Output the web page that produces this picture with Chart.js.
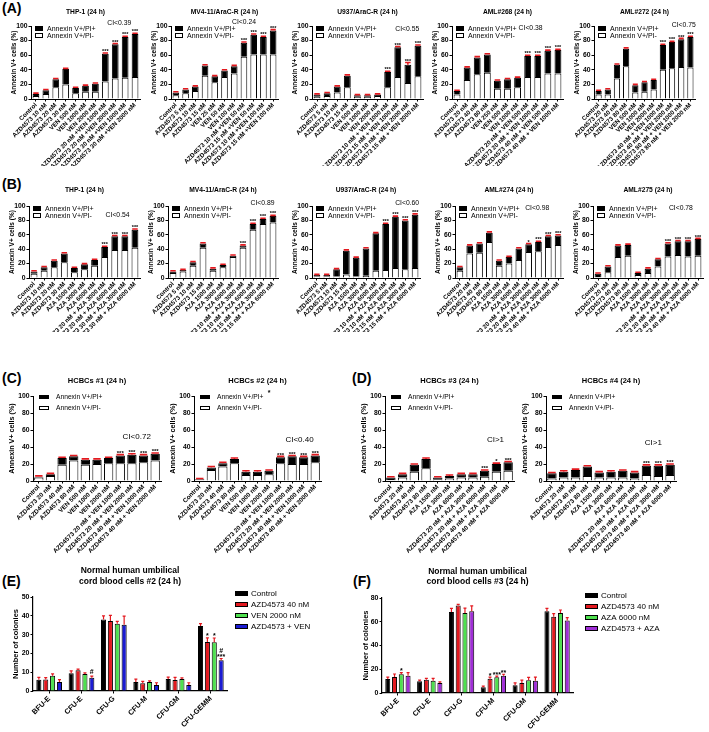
<!DOCTYPE html>
<html>
<head>
<meta charset="utf-8">
<title>Annexin V and colony assays</title>
<script src="https://cdn.jsdelivr.net/npm/chart.js@4.4.1/dist/chart.umd.min.js"></script>
<style>
  body{margin:0;background:#fff;}
  #fig{position:relative;width:709px;height:732px;overflow:hidden;background:#fff;}
  #fig canvas{position:absolute;}
  .tag{position:absolute;font:bold 14px "Liberation Sans",Arial,sans-serif;line-height:14px;color:#000;}
</style>
</head>
<body>
<div id="fig">
  <div class="tag" style="left:2px;top:1px">(A)</div>
  <div class="tag" style="left:2px;top:177px">(B)</div>
  <div class="tag" style="left:2px;top:371px">(C)</div>
  <div class="tag" style="left:352px;top:371px">(D)</div>
  <div class="tag" style="left:2px;top:574px">(E)</div>
  <div class="tag" style="left:353px;top:574px">(F)</div>
</div>
<script>
const FONT = '"Liberation Sans", Arial, sans-serif';
const RED = '#e3191f';
Chart.defaults.font.family = FONT;

// ---------- category labels ----------
const labThpVen = ['Control','AZD4573 10 nM','AZD4573 20 nM','AZD4573 30 nM','VEN 500 nM','VEN 1000 nM','VEN 2000 nM',
  'AZD4573 20 nM +VEN 1000 nM','AZD4573 20 nM +VEN 2000 nM','AZD4573 30 nM +VEN 1000 nM','AZD4573 30 nM +VEN 2000 nM'];
const labMvVen = ['Control','AZD4573 5 nM','AZD4573 10 nM','AZD4573 15 nM','VEN 25 nM','VEN 50 nM','VEN 100 nM',
  'AZD4573 10 nM +VEN 50 nM','AZD4573 15 nM +VEN 50 nM','AZD4573 10 nM +VEN 100 nM','AZD4573 15 nM +VEN 100 nM'];
const labU9Ven = ['Control','AZD4573 5 nM','AZD4573 10 nM','AZD4573 15 nM','VEN 500 nM','VEN 1000 nM','VEN 2000 nM',
  'AZD4573 10 nM + VEN 1000 nM','AZD4573 15 nM + VEN 1000 nM','AZD4573 10 nM + VEN 2000 nM','AZD4573 15 nM + VEN 2000 nM'];
const lab268Ven = ['Control','AZD4573 20 nM','AZD4573 40 nM','AZD4573 80 nM','VEN 250 nM','VEN 500 nM','VEN 1000 nM',
  'AZD4573 20 nM + VEN 500 nM','AZD4573 20 nM + VEN 1000 nM','AZD4573 40 nM + VEN 500 nM','AZD4573 40 nM + VEN 1000 nM'];
const lab272Ven = ['Control','AZD4573 20 nM','AZD4573 40 nM','AZD4573 80 nM','VEN 500 nM','VEN 1000 nM','VEN 2000 nM',
  'AZD4573 40 nM + VEN 1000 nM','AZD4573 40 nM + VEN 2000 nM','AZD4573 80 nM + VEN 1000 nM','AZD4573 80 nM + VEN 2000 nM'];
const labThpAza = ['Control','AZD4573 10 nM','AZD4573 20 nM','AZD4573 30 nM','AZA 1500 nM','AZA 3000 nM','AZA 6000 nM',
  'AZD4573 20 nM + AZA 3000 nM','AZD4573 20 nM + AZA 6000 nM','AZD4573 30 nM + AZA 3000 nM','AZD4573 30 nM + AZA 6000 nM'];
const labLowAza = ['Control','AZD4573 5 nM','AZD4573 10 nM','AZD4573 15 nM','AZA 1500 nM','AZA 3000 nM','AZA 6000 nM',
  'AZD4573 10 nM + AZA 3000 nM','AZD4573 10 nM + AZA 6000 nM','AZD4573 15 nM + AZA 3000 nM','AZD4573 15 nM + AZA 6000 nM'];
const labHighAza = ['Control','AZD4573 20 nM','AZD4573 40 nM','AZD4573 80 nM','AZA 1500 nM','AZA 3000 nM','AZA 6000 nM',
  'AZD4573 20 nM + AZA 3000 nM','AZD4573 20 nM + AZA 6000 nM','AZD4573 40 nM + AZA 3000 nM','AZD4573 40 nM + AZA 6000 nM'];
const labCordVen = ['Control','AZD4573 20 nM','AZD4573 40 nM','AZD4573 80 nM','VEN 500 nM','VEN 1000 nM','VEN 2000 nM',
  'AZD4573 20 nM + VEN 1000 nM','AZD4573 20 nM + VEN 2000 nM','AZD4573 40 nM + VEN 1000 nM','AZD4573 40 nM + VEN 2000 nM'];

// ---------- (A) Annexin V+/PI- (white) and V+/PI+ (black) segments, % ----------
const negA1 = [4, 7, 16, 20, 8, 10, 10, 24, 28, 29, 30];
const posA1 = [3, 5, 11, 21, 7, 8, 11, 38, 47, 56, 59];
const negA2 = [5, 8, 11, 32, 23, 30, 35, 58, 61, 61, 61];
const posA2 = [4, 5, 6, 14, 8, 9, 10, 19, 27, 24, 33];
const negA3 = [3, 4, 9, 16, 3, 3, 4, 16, 30, 22, 31];
const posA3 = [3, 4, 8, 16, 2, 2, 2, 21, 41, 25, 42];
const errA3 = [1, 1, 1, 1, 1, 1, 1, 1, 1, 3, 1];
const negA4 = [6, 26, 34, 36, 14, 14, 16, 30, 30, 35, 35];
const posA4 = [5, 17, 23, 25, 11, 13, 13, 29, 29, 31, 32];
const negA5 = [6, 6, 28, 45, 9, 10, 13, 40, 42, 44, 43];
const posA5 = [5, 7, 19, 24, 10, 13, 13, 34, 36, 38, 42];

// ---------- (B) ----------
const negB1 = [6, 10, 15, 22, 8, 12, 17, 29, 39, 39, 42];
const posB1 = [3, 5, 9, 12, 6, 7, 8, 14, 19, 19, 25];
const negB2 = [7, 9, 17, 42, 10, 15, 29, 42, 67, 75, 77];
const posB2 = [2, 2, 5, 6, 3, 3, 2, 3, 8, 7, 9];
const negB3 = [2, 2, 2, 5, 2, 3, 10, 11, 14, 12, 14];
const posB3 = [2, 2, 10, 33, 26, 38, 52, 64, 71, 68, 74];
const negB4 = [10, 34, 35, 50, 17, 20, 25, 36, 37, 43, 46];
const posB4 = [5, 11, 13, 13, 7, 9, 16, 11, 13, 15, 13];
const negB5 = [1, 8, 29, 31, 4, 7, 16, 30, 32, 30, 31];
const posB5 = [5, 8, 16, 15, 3, 6, 10, 18, 19, 21, 23];

// ---------- (C) / (D) cord blood cells ----------
const negC1 = [4, 6, 19, 24, 19, 20, 21, 21, 21, 22, 24];
const posC1 = [1, 2, 8, 5, 6, 5, 6, 9, 10, 8, 8];
const negC2 = [1, 13, 17, 21, 7, 7, 8, 21, 20, 20, 22];
const posC2 = [1, 3, 4, 5, 4, 4, 4, 7, 9, 8, 8];
const negD3 = [1, 4, 11, 15, 2, 3, 4, 4, 5, 11, 12];
const posD3 = [3, 4, 8, 11, 2, 3, 4, 4, 7, 9, 10];
const negD4 = [3, 4, 4, 6, 4, 4, 4, 3, 7, 6, 7];
const posD4 = [6, 7, 9, 11, 6, 7, 8, 7, 11, 12, 12];

// significance marks
const starsCombo = ['', '', '', '', '', '', '', '***', '***', '***', '***'];
const starsB4 = ['', '', '', '', '', '', '', '*', '***', '***', '***'];
const starsD3 = ['', '', '', '', '', '', '', '', '***', '*', '***'];
const starsD4 = ['', '', '', '', '', '', '', '', '***', '***', '***'];

// ---------- (E) / (F) colony numbers ----------
const colonyTypes = ['BFU-E', 'CFU-E', 'CFU-G', 'CFU-M', 'CFU-GM', 'CFU-GEMM'];
const namesE = ['Control', 'AZD4573 40 nM', 'VEN 2000 nM', 'AZD4573 + VEN'];
const e2Control = [6, 9.5, 38, 4.8, 6.4, 34.6];
const e2Azd = [6.1, 11.1, 37.2, 4.1, 5.8, 26.1];
const e2Ven = [8.1, 9, 35.8, 4.8, 6.4, 25.9];
const e2Combo = [4.8, 7.1, 35.3, 3.2, 3.2, 16.3];
const e2ErrControl = [1.3, 1.2, 2, 1.5, 1, 1.2];
const e2ErrAzd = [1, 0.5, 3, 1, 1.5, 2.2];
const e2ErrVen = [1, 0.6, 1.2, 0.6, 0.6, 2.3];
const e2ErrCombo = [1.2, 0.8, 4.5, 1.2, 1.2, 1];
const e2Marks = [['', '', '', '', '', ''], ['', '', '', '', '', '*'], ['', '', '', '', '', '*'], ['', '#', '', '', '', '#\n***']];

const namesF = ['Control', 'AZD4573 40 nM', 'AZA 6000 nM', 'AZD4573 + AZA'];
const f3Control = [11.8, 9.8, 68.3, 4.8, 6.5, 68.8];
const f3Azd = [13.5, 11.2, 73.6, 12.1, 8.4, 64.3];
const f3Aza = [15.7, 10.4, 67.4, 13.2, 10.7, 67.4];
const f3Combo = [14.6, 8.4, 68.8, 14.6, 10.4, 61];
const f3ErrControl = [1.5, 1, 3, 1, 2, 2.5];
const f3ErrAzd = [2.5, 1.2, 1, 1.2, 2.5, 2.5];
const f3ErrAza = [1.5, 2, 4, 1, 2.5, 2.5];
const f3ErrCombo = [2.5, 1, 4.5, 1.2, 3, 2.5];
const f3Marks = [['', '', '', '', '', ''], ['', '', '', '*', '', ''], ['*', '', '', '***', '', ''], ['', '', '', '**', '', '']];

const colorsE = ['#000000', '#e3191f', '#4fe04f', '#1b1bd2'];
const colorsF = ['#000000', '#e3191f', '#4fe04f', '#a02fd6'];

// ---------- drawing helpers ----------
function drawErr(ctx, x, yv, ye, w, lw) {
  ctx.strokeStyle = RED;
  ctx.lineWidth = lw;
  ctx.beginPath();
  ctx.moveTo(x, yv); ctx.lineTo(x, ye);
  ctx.moveTo(x - w / 2, ye); ctx.lineTo(x + w / 2, ye);
  ctx.stroke();
}

function drawMark(ctx, text, x, yTop, size) {
  ctx.fillStyle = '#000';
  ctx.textAlign = 'center';
  ctx.textBaseline = 'alphabetic';
  ctx.font = `bold ${size}px ${FONT}`;
  let cur = yTop;
  text.split('\n').reverse().forEach(line => {
    if (/^\*+$/.test(line)) {
      ctx.fillText(line, x, cur + size * 0.2);
      cur -= size * 0.5;
    } else {
      ctx.fillText(line, x, cur - 1);
      cur -= size * 0.8 + 1;
    }
  });
}

const extras = {
  id: 'extras',
  afterDatasetsDraw(chart, args, o) {
    const ctx = chart.ctx, a = chart.chartArea, y = chart.scales.y;
    const ds = chart.data.datasets;
    ctx.save();
    if (o.stacked) {
      chart.getDatasetMeta(ds.length - 1).data.forEach((bar, i) => {
        const tot = ds.reduce((s, d) => s + d.data[i], 0);
        const e = o.err ? o.err[i] : 1;
        const ye = y.getPixelForValue(tot + e);
        drawErr(ctx, bar.x, y.getPixelForValue(tot), ye, bar.width * 0.8, 1.6);
        if (o.marks && o.marks[i]) drawMark(ctx, o.marks[i], bar.x, ye - 1, o.markSize);
      });
    }
    if (o.errs) {
      ds.forEach((d, k) => {
        chart.getDatasetMeta(k).data.forEach((bar, i) => {
          const ye = y.getPixelForValue(d.data[i] + o.errs[k][i]);
          drawErr(ctx, bar.x, y.getPixelForValue(d.data[i]), ye, bar.width * 0.6, 1.2);
          if (o.marks && o.marks[k][i]) drawMark(ctx, o.marks[k][i], bar.x, ye - 1, o.markSize);
        });
      });
    }
    if (o.legend) {
      const L = o.legend;
      const items = ds.map(d => [d.label, d.backgroundColor]);
      if (L.reverse) items.reverse();
      ctx.font = `${L.size}px ${FONT}`;
      ctx.textAlign = 'left';
      ctx.textBaseline = 'middle';
      items.forEach(([label, fill], i) => {
        const x = Math.round(a.left + L.x), yc = Math.round(a.top + L.y + i * L.gap);
        const y0 = yc - Math.round(L.bh / 2);
        ctx.fillStyle = fill;
        ctx.fillRect(x, y0, L.bw, L.bh);
        ctx.strokeStyle = '#000';
        ctx.lineWidth = 1;
        ctx.strokeRect(x + 0.5, y0 + 0.5, L.bw - 1, L.bh - 1);
        ctx.fillStyle = '#000';
        ctx.fillText(label, x + L.bw + L.textGap, yc);
      });
    }
    (o.texts || []).forEach(t => {
      ctx.fillStyle = '#000';
      ctx.font = `${t.weight || 'normal'} ${t.size}px ${FONT}`;
      ctx.textAlign = 'left';
      ctx.textBaseline = 'middle';
      ctx.fillText(t.text, a.left + t.fx * (a.right - a.left), y.getPixelForValue(t.v));
    });
    ctx.restore();
  }
};

function addCanvas(left, top, w, h) {
  const c = document.createElement('canvas');
  c.width = w; c.height = h;
  c.style.left = left + 'px'; c.style.top = top + 'px';
  c.style.width = w + 'px'; c.style.height = h + 'px';
  document.getElementById('fig').appendChild(c);
  return c;
}

const bold = size => ({family: FONT, size: size, weight: 'bold'});
const blackTicks = {display: true, drawOnChartArea: false, offset: false, tickLength: 2.5, color: '#000', lineWidth: 1};

const SMALL = {yW: 22, tick: 6.8, xTick: 6.2, title: 6.7, yTitle: 6.5, ci: 6.8, mark: 5.5, bar: 0.68,
  legend: {x: 4, y: 2.5, gap: 7, bw: 8, bh: 5, size: 7, textGap: 4, reverse: true}};
const LARGE = {yW: 26, tick: 6.8, xTick: 6.3, title: 7.5, yTitle: 7.2, ci: 8, mark: 6, bar: 0.8,
  legend: {x: 6, y: 1, gap: 11, bw: 10, bh: 4, size: 6.7, textGap: 7, reverse: true}};

// stacked Annexin V panel; area = [left, right, top, bottom] of the plot in page pixels
function stackPanel(p) {
  const s = p.large ? LARGE : SMALL;
  const [x0, x1, y0, y1] = p.area;
  const left = x0 - s.yW, width = x1 - left + 3;
  const line = s.title * 1.2;
  const padTop = p.titleY - p.top - line / 2;
  const c = addCanvas(left, p.top, width, p.h);
  const texts = [{text: p.ci[0], fx: p.ci[1], v: p.ci[2], size: s.ci}].concat(p.notes || []);
  new Chart(c, {
    type: 'bar',
    data: {
      labels: p.labels,
      datasets: [
        {label: 'Annexin V+/PI-', data: p.neg, backgroundColor: '#ffffff', borderColor: '#000', borderWidth: 1,
          barPercentage: s.bar, categoryPercentage: 1},
        {label: 'Annexin V+/PI+', data: p.pos, backgroundColor: '#000000', borderColor: '#000', borderWidth: 1,
          barPercentage: s.bar, categoryPercentage: 1}
      ]
    },
    options: {
      responsive: false, animation: false, events: [],
      layout: {padding: {top: padTop, right: 3, left: 0, bottom: 0}},
      plugins: {
        legend: {display: false},
        tooltip: {enabled: false},
        title: {display: true, text: p.title, fullSize: false, color: '#000', font: bold(s.title),
          padding: {top: 0, bottom: y0 - p.top - padTop - line}},
        extras: {stacked: true, err: p.err, marks: p.stars, markSize: s.mark, legend: s.legend, texts: texts}
      },
      scales: {
        x: {
          stacked: true,
          grid: blackTicks,
          border: {color: '#000', width: 1},
          ticks: {autoSkip: false, minRotation: 45, maxRotation: 45, padding: 0, color: '#000', font: bold(s.xTick)},
          afterFit: sc => { sc.height = p.top + p.h - y1; sc.paddingLeft = 0; sc.paddingRight = 0; }
        },
        y: {
          stacked: true, min: 0, max: 100,
          grid: blackTicks,
          border: {color: '#000', width: 1},
          ticks: {stepSize: 20, padding: 1, color: '#000', font: bold(s.tick)},
          title: {display: true, text: 'Annexin V+ cells (%)', color: '#000', font: bold(s.yTitle), padding: {top: 1, bottom: 0}},
          afterFit: sc => { sc.width = s.yW; }
        }
      }
    },
    plugins: [extras]
  });
}

// grouped colony-count panel
function colonyPanel(p) {
  const [x0, x1, y0, y1] = p.area;
  const left = x0 - p.yW, width = p.right - left;
  const titleSize = 8.5, line = titleSize * 1.25 * 2;
  const padTop = p.titleTop - p.top;
  const c = addCanvas(left, p.top, width, p.h);
  new Chart(c, {
    type: 'bar',
    data: {
      labels: colonyTypes,
      datasets: p.series.map((vals, k) => ({
        label: p.names[k], data: vals, backgroundColor: p.colors[k], borderColor: '#000', borderWidth: 1,
        barPercentage: 0.74, categoryPercentage: 0.85
      }))
    },
    options: {
      responsive: false, animation: false, events: [],
      layout: {padding: {top: padTop, right: p.right - x1, left: 0, bottom: 0}},
      plugins: {
        legend: {display: false},
        tooltip: {enabled: false},
        title: {display: true, text: p.title, fullSize: false, color: '#000',
          font: {family: FONT, size: titleSize, weight: 'bold', lineHeight: 1.25},
          padding: {top: 0, bottom: y0 - p.top - padTop - line}},
        extras: {errs: p.errs, marks: p.marks, markSize: 7,
          legend: {x: p.legendX, y: p.legendY, gap: 11, bw: 13, bh: 5, size: 8, textGap: 3}}
      },
      scales: {
        x: {
          grid: blackTicks,
          border: {color: '#000', width: 1.2},
          ticks: {autoSkip: false, minRotation: 45, maxRotation: 45, padding: 1, color: '#000', font: bold(7.3)},
          afterFit: sc => { sc.height = p.top + p.h - y1; sc.paddingLeft = 0; sc.paddingRight = 0; }
        },
        y: {
          min: 0, max: p.max,
          grid: blackTicks,
          border: {color: '#000', width: 1.2},
          ticks: {stepSize: p.step, padding: 1, color: '#000', font: bold(7)},
          title: {display: true, text: 'Number of colonies', color: '#000', font: bold(7.5), padding: {top: 1, bottom: 0}},
          afterFit: sc => { sc.width = p.yW; }
        }
      }
    },
    plugins: [extras]
  });
}

// ---------- row A ----------
const rowA = {top: 0, h: 166, titleY: 12.5};
stackPanel({...rowA, area: [31, 140, 26, 99], title: 'THP-1 (24 h)', labels: labThpVen, neg: negA1, pos: posA1, stars: starsCombo, ci: ['CI<0.39', 0.7, 104]});
stackPanel({...rowA, area: [171, 278, 26, 99], title: 'MV4-11/AraC-R (24 h)', labels: labMvVen, neg: negA2, pos: posA2, stars: starsCombo, ci: ['CI<0.24', 0.57, 105.5]});
stackPanel({...rowA, area: [312, 423, 26, 99], title: 'U937/AraC-R (24 h)', labels: labU9Ven, neg: negA3, pos: posA3, err: errA3, stars: starsCombo, ci: ['CI<0.55', 0.75, 96]});
stackPanel({...rowA, area: [452, 563, 26, 99], title: 'AML#268 (24 h)', labels: lab268Ven, neg: negA4, pos: posA4, stars: starsCombo, ci: ['CI<0.38', 0.6, 97]});
stackPanel({...rowA, area: [594, 695, 26, 99], title: 'AML#272 (24 h)', labels: lab272Ven, neg: negA5, pos: posA5, stars: starsCombo, ci: ['CI<0.75', 0.77, 101]});

// ---------- row B ----------
const rowB = {top: 165, h: 167, titleY: 190};
stackPanel({...rowB, area: [29, 140, 206, 278], title: 'THP-1 (24 h)', labels: labThpAza, neg: negB1, pos: posB1, stars: starsCombo, ci: ['CI<0.54', 0.69, 87.5]});
stackPanel({...rowB, area: [168, 278, 206, 278], title: 'MV4-11/AraC-R (24 h)', labels: labLowAza, neg: negB2, pos: posB2, stars: starsCombo, ci: ['CI<0.89', 0.75, 104]});
stackPanel({...rowB, area: [312, 420, 206, 278], title: 'U937/AraC-R (24 h)', labels: labLowAza, neg: negB3, pos: posB3, stars: starsCombo, ci: ['CI<0.60', 0.77, 104]});
stackPanel({...rowB, area: [455, 563, 206, 278], title: 'AML#274 (24 h)', labels: labHighAza, neg: negB4, pos: posB4, stars: starsB4, ci: ['CI<0.98', 0.65, 97]});
stackPanel({...rowB, area: [593, 703, 206, 278], title: 'AML#275 (24 h)', labels: labHighAza, neg: negB5, pos: posB5, stars: starsCombo, ci: ['CI<0.78', 0.69, 97]});

// ---------- rows C / D ----------
const rowC = {top: 335, h: 222, titleY: 380.5, large: true};
stackPanel({...rowC, area: [33, 161, 396, 481], title: 'HCBCs #1 (24 h)', labels: labCordVen, neg: negC1, pos: posC1, stars: starsCombo, ci: ['CI<0.72', 0.7, 52]});
stackPanel({...rowC, area: [194, 321, 396, 481], title: 'HCBCs #2 (24 h)', labels: labCordVen, neg: negC2, pos: posC2, stars: starsCombo, ci: ['CI<0.40', 0.72, 49],
  notes: [{text: '*', fx: 0.58, v: 104, size: 7, weight: 'bold'}]});
stackPanel({...rowC, area: [385, 514, 396, 481], title: 'HCBCs #3 (24 h)', labels: labHighAza, neg: negD3, pos: posD3, stars: starsD3, ci: ['CI>1', 0.79, 48]});
stackPanel({...rowC, area: [546, 676, 396, 481], title: 'HCBCs #4 (24 h)', labels: labHighAza, neg: negD4, pos: posD4, stars: starsD4, ci: ['CI>1', 0.76, 45]});

// ---------- rows E / F ----------
colonyPanel({top: 555, h: 177, titleTop: 565.5, area: [33, 227, 597, 691], right: 350, yW: 23, max: 50, step: 10,
  title: ['Normal human umbilical', 'cord blood cells #2 (24 h)'],
  names: namesE, colors: colorsE, series: [e2Control, e2Azd, e2Ven, e2Combo],
  errs: [e2ErrControl, e2ErrAzd, e2ErrVen, e2ErrCombo], marks: e2Marks, legendX: 202, legendY: -3});
colonyPanel({top: 555, h: 177, titleTop: 566, area: [382, 573, 598, 693], right: 709, yW: 22, max: 80, step: 20,
  title: ['Normal human umbilical', 'cord blood cells #3 (24 h)'],
  names: namesF, colors: colorsF, series: [f3Control, f3Azd, f3Aza, f3Combo],
  errs: [f3ErrControl, f3ErrAzd, f3ErrAza, f3ErrCombo], marks: f3Marks, legendX: 203, legendY: -2});
</script>
</body>
</html>
